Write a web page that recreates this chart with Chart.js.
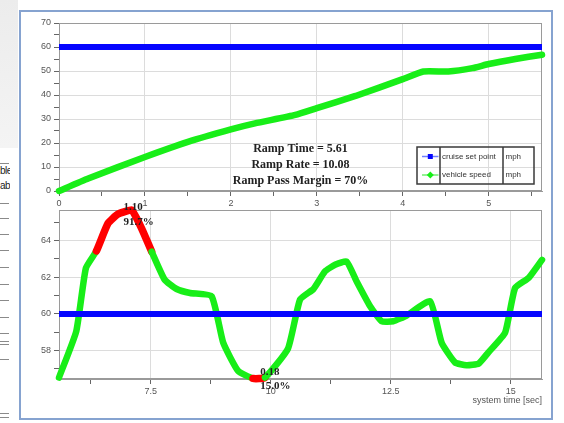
<!DOCTYPE html>
<html lang="en">
<head>
<meta charset="UTF-8">
<title>Cruise ramp</title>
<script src="https://cdn.jsdelivr.net/npm/chart.js"></script>
<style>
  body { margin: 0; width: 564px; height: 423px; background: #fff; position: relative; overflow: hidden; font-family: 'Liberation Sans', Arial, sans-serif; }
  .side { position: absolute; left: 0; top: 0; width: 18px; height: 148px; background: linear-gradient(to bottom, #ececec, #f4f4f4); }
  .side-txt { position: absolute; left: 0; width: 10px; overflow: hidden; font-size: 10px; color: #222; white-space: nowrap; letter-spacing: -0.5px; }
  .side-line { position: absolute; left: 0; width: 9px; height: 1px; background: #8a8a8a; }
  .frame { position: absolute; left: 19px; top: 10px; width: 530px; height: 406px; border: 2px solid #86a3d0; background: #fff; }
  .plot { position: absolute; left: 20px; width: 536px; }
</style>
</head>
<body>
<div class="side"></div>
<div class="side-txt" style="top:165px">ble</div>
<div class="side-txt" style="top:180px">ab</div>
<div id="sideLines"></div>
<div class="frame"></div>
<div class="plot" style="top:12px; height:200px"><canvas id="rampChart"></canvas></div>
<div class="plot" style="top:195px; height:220px"><canvas id="holdChart"></canvas></div>

<script>
// ramp phase (top chart)
const rampTime  = [0, 0.34, 1.0, 1.5, 2.0, 2.28, 2.75, 3.0, 3.45, 4.0, 4.24, 4.53, 4.81, 5.0, 5.31, 5.62];
const rampSpeed = [0, 5.2, 14.2, 20.5, 25.7, 28.2, 31.7, 34.5, 39.6, 46.6, 49.8, 49.8, 51.2, 52.9, 55.0, 56.8];

// after the ramp (bottom chart)
const holdTime  = [5.59, 5.95, 6.15, 6.37, 6.61, 6.82, 7.10, 7.31, 7.52, 7.79, 8.04, 8.32, 8.77, 9.01, 9.32, 9.63, 9.88,
                   10.36, 10.61, 10.89, 11.13, 11.34, 11.58, 11.79, 12.07, 12.31, 12.55, 12.83, 13.32, 13.56, 13.84,
                   14.08, 14.33, 14.53, 14.88, 15.09, 15.37, 15.65];
const holdSpeed = [56.53, 59.06, 62.50, 63.44, 64.94, 65.45, 65.67, 64.67, 63.40, 61.87, 61.36, 61.14, 60.96, 58.43, 56.89, 56.48, 56.53,
                   58.11, 60.78, 61.36, 62.32, 62.68, 62.86, 61.77, 60.42, 59.60, 59.60, 59.91, 60.69, 58.43, 57.35,
                   57.20, 57.29, 57.89, 58.97, 61.42, 61.96, 62.95];

const setPoint = 60;
const redRanges = [[6.37, 7.52], [9.63, 9.88]];

// annotations
const markTimes  = [7.10, 9.95];
const markValues = [65.66, 56.69];
const markLabels = [['1.10', '91.7%'], ['0.18', '15.0%']];
const rampLines  = ['Ramp Time = 5.61', 'Ramp Rate = 10.08', 'Ramp Pass Margin = 70%'];
const legendNames = ['cruise set point', 'vehicle speed'];
const legendUnits = ['mph', 'mph'];

const FONT = "'Liberation Sans', Arial, sans-serif";
const SERIF = "'Liberation Serif', 'Times New Roman', serif";
const GREEN = '#18ee18';
const BLUE = '#0505ff';

// background window sliver on the left
[163, 203, 218, 234, 250, 267, 284, 300, 317, 333, 341, 344, 359, 413, 417].forEach(y => {
  const d = document.createElement('div');
  d.className = 'side-line';
  d.style.top = y + 'px';
  document.getElementById('sideLines').appendChild(d);
});

const boxPlugin = {
  id: 'plotBox',
  beforeDatasetsDraw(chart) {
    const a = chart.chartArea, c = chart.ctx;
    c.save();
    c.strokeStyle = '#9a9a9a';
    c.lineWidth = 1;
    c.strokeRect(Math.round(a.left) + 0.5, Math.round(a.top) + 0.5, Math.round(a.right - a.left) - 1, Math.round(a.bottom - a.top) - 1);
    c.restore();
  }
};

// text + legend in the ramp chart
const rampPlugin = {
  id: 'rampText',
  afterDatasetsDraw(chart) {
    const a = chart.chartArea, c = chart.ctx;
    c.save();
    c.fillStyle = '#222';
    c.font = 'bold 12px ' + SERIF;
    c.textAlign = 'center';
    c.textBaseline = 'alphabetic';
    const cx = (a.left + a.right) / 2;
    rampLines.forEach((t, i) => c.fillText(t, cx, a.bottom - 39 + i * 16));

    // legend table
    const w = 117, h = 37;
    const x = a.right - 8 - w, y = a.bottom - 7 - h;
    c.strokeStyle = '#3a3a3a';
    c.lineWidth = 1.5;
    c.strokeRect(x, y, w, h);
    c.beginPath();
    c.moveTo(x + 23, y); c.lineTo(x + 23, y + h);
    c.moveTo(x + 86, y); c.lineTo(x + 86, y + h);
    c.stroke();
    const lineCols = ['#7080ff', '#70ee70'];
    const markCols = [BLUE, GREEN];
    legendNames.forEach((name, i) => {
      const cy = y + 9.5 + i * 18.5;
      c.strokeStyle = lineCols[i];
      c.lineWidth = 1.5;
      c.beginPath(); c.moveTo(x + 5, cy); c.lineTo(x + 21.5, cy); c.stroke();
      c.fillStyle = markCols[i];
      if (i === 0) {
        c.fillRect(x + 13.3 - 2.5, cy - 2.5, 5, 5);
      } else {
        c.beginPath();
        c.moveTo(x + 13.3, cy - 3.5); c.lineTo(x + 16.8, cy); c.lineTo(x + 13.3, cy + 3.5); c.lineTo(x + 9.8, cy);
        c.closePath(); c.fill();
      }
      c.fillStyle = '#333';
      c.font = '8px ' + FONT;
      c.textAlign = 'left';
      c.textBaseline = 'middle';
      c.fillText(name, x + 25, cy);
      c.fillText(legendUnits[i], x + 88.5, cy);
    });
    c.restore();
  }
};

// overshoot / undershoot labels in the lower chart
const markPlugin = {
  id: 'marks',
  afterDatasetsDraw(chart) {
    const c = chart.ctx, xs = chart.scales.x, ys = chart.scales.y;
    c.save();
    c.fillStyle = '#222';
    c.font = 'bold 11px ' + SERIF;
    c.textAlign = 'left';
    c.textBaseline = 'alphabetic';
    markTimes.forEach((t, i) => {
      const px = xs.getPixelForValue(t) - 8;
      const py = ys.getPixelForValue(markValues[i]);
      markLabels[i].forEach((s, k) => c.fillText(s, px, py + k * 14.5));
    });
    c.restore();
  }
};

function tickFont() { return { family: FONT, size: 9 }; }

function isStep(v, s) { return Math.abs(v / s - Math.round(v / s)) < 1e-6; }

function axisX(min, max, step, labelStep, height, title) {
  return {
    type: 'linear', min: min, max: max,
    afterFit: s => { s.height = height; },
    border: { color: '#9a9a9a' },
    grid: {
      color: ctx => (ctx.tick && isStep(ctx.tick.value, labelStep)) ? '#dcdcdc' : 'rgba(0,0,0,0)',
      tickColor: '#666', tickLength: 5
    },
    ticks: {
      stepSize: step, includeBounds: false, autoSkip: false, maxRotation: 0,
      padding: 2, color: '#555', font: tickFont(),
      callback: v => isStep(v, labelStep) ? String(+v.toFixed(2)) : ''
    },
    title: title ? { display: true, text: title, align: 'end', color: '#555', font: tickFont(), padding: { top: 0, bottom: 9 } } : { display: false }
  };
}

function axisY(min, max, step, labelStep) {
  return {
    min: min, max: max,
    afterFit: s => { s.width = 39; },
    border: { color: '#9a9a9a' },
    grid: {
      color: ctx => (ctx.tick && isStep(ctx.tick.value, labelStep)) ? '#dcdcdc' : 'rgba(0,0,0,0)',
      tickColor: '#666', tickLength: 5
    },
    ticks: {
      stepSize: step, includeBounds: false, autoSkip: false,
      padding: 3, color: '#555', font: tickFont(),
      callback: v => isStep(v, labelStep) ? String(v) : ''
    }
  };
}

const baseOpts = {
  responsive: true,
  maintainAspectRatio: false,
  animation: false,
  plugins: { legend: { display: false }, tooltip: { enabled: false } },
  elements: { point: { radius: 0 }, line: { tension: 0.15, borderCapStyle: 'round', borderJoinStyle: 'round' } }
};

new Chart(document.getElementById('rampChart'), {
  type: 'line',
  data: {
    datasets: [
      { label: 'cruise set point', data: [{ x: 0, y: setPoint }, { x: 5.62, y: setPoint }], borderColor: BLUE, borderWidth: 6, borderCapStyle: 'butt' },
      { label: 'vehicle speed', data: rampTime.map((t, i) => ({ x: t, y: rampSpeed[i] })), borderColor: GREEN, borderWidth: 6.5, clip: 6 }
    ]
  },
  options: Object.assign({}, baseOpts, {
    layout: { padding: { top: 11, right: 14, left: 0, bottom: 0 } },
    scales: { x: axisX(0, 5.62, 0.5, 1, 21), y: axisY(0, 70, 5, 10) }
  }),
  plugins: [boxPlugin, rampPlugin]
});

const inRed = (a, b) => redRanges.some(r => a >= r[0] - 1e-6 && b <= r[1] + 1e-6);

new Chart(document.getElementById('holdChart'), {
  type: 'line',
  data: {
    datasets: [
      { label: 'cruise set point', data: [{ x: 5.59, y: setPoint }, { x: 15.65, y: setPoint }], borderColor: BLUE, borderWidth: 6, borderCapStyle: 'butt' },
      {
        label: 'vehicle speed',
        data: holdTime.map((t, i) => ({ x: t, y: holdSpeed[i] })),
        borderColor: GREEN, borderWidth: 6.5, clip: 6,
        segment: {
          borderColor: ctx => inRed(ctx.p0.parsed.x, ctx.p1.parsed.x) ? '#ff0000' : undefined,
          borderWidth: ctx => inRed(ctx.p0.parsed.x, ctx.p1.parsed.x) ? 7.5 : undefined
        }
      }
    ]
  },
  options: Object.assign({}, baseOpts, {
    layout: { padding: { top: 15, right: 14, left: 0, bottom: 0 } },
    scales: { x: axisX(5.59, 15.65, 1.25, 2.5, 36, 'system time [sec]'), y: axisY(56.45, 65.67, 1, 2) }
  }),
  plugins: [boxPlugin, markPlugin]
});
</script>
</body>
</html>
